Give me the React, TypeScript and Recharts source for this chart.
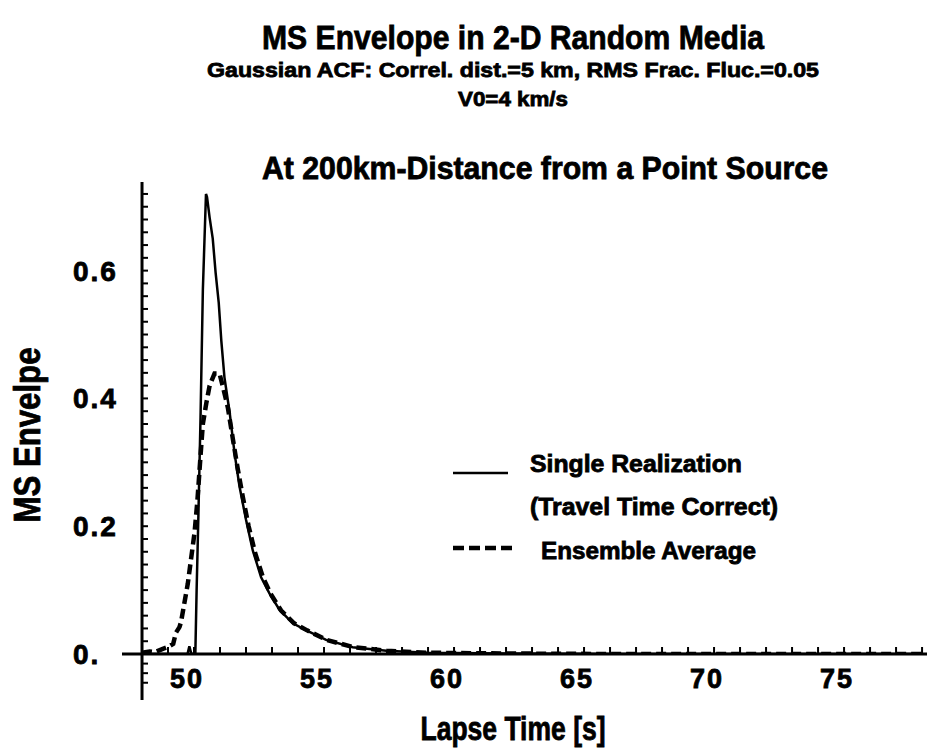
import React from "react";
import { LineChart, Line, XAxis, YAxis, ReferenceLine } from "recharts";

// ---- data ----
const singleT = [48, 49.75, 49.82, 49.9, 50.05, 50.1, 50.17, 50.25, 50.34, 50.46, 50.5, 50.6, 50.72, 50.83, 50.95, 51.05, 51.17, 51.37, 51.56, 51.75, 52.0, 52.26, 52.58, 52.9, 53.29, 53.8, 54.3, 55.08, 56.1, 57.4, 59, 62, 66, 78];
const singleV = [0, 0, 0.012, 0, 0, 0.1, 0.22, 0.37, 0.57, 0.72, 0.715, 0.683, 0.65, 0.597, 0.55, 0.49, 0.433, 0.378, 0.314, 0.262, 0.21, 0.162, 0.12, 0.095, 0.069, 0.048, 0.0375, 0.022, 0.0105, 0.005, 0.002, 0.0006, 0, 0];

const ensembleT = [48, 48.3, 48.5, 48.8, 49.0, 49.2, 49.3, 49.44, 49.5, 49.63, 49.76, 49.89, 50.02, 50.13, 50.25, 50.34, 50.47, 50.6, 50.79, 50.98, 51.1, 51.3, 51.48, 51.68, 51.88, 52.1, 52.35, 52.65, 52.95, 53.35, 53.85, 54.35, 55.1, 56.1, 57.4, 59, 62, 66, 78];
const ensembleV = [0.002, 0.004, 0.003, 0.008, 0.011, 0.016, 0.033, 0.042, 0.05, 0.08, 0.11, 0.15, 0.19, 0.24, 0.31, 0.36, 0.392, 0.42, 0.439, 0.439, 0.42, 0.386, 0.34, 0.29, 0.245, 0.2, 0.158, 0.12, 0.094, 0.068, 0.048, 0.037, 0.022, 0.011, 0.005, 0.002, 0.0008, 0, 0];

const xTickValues = [50, 55, 60, 65, 70, 75];
const xTickLabels = ["50", "55", "60", "65", "70", "75"];
const yTickValues = [0, 0.2, 0.4, 0.6];
const yTickLabels = ["0.", "0.2", "0.4", "0.6"];

const xMinorTicks = [49, 50, 51, 52, 53, 54, 55, 56, 57, 58, 59, 60, 61, 62, 63, 64, 65, 66, 67, 68, 69, 70, 71, 72, 73, 74, 75, 76, 77, 78];
const yMinorTicks = [-0.045, -0.03, -0.015, 0.02, 0.04, 0.06, 0.08, 0.1, 0.12, 0.14, 0.16, 0.18, 0.2, 0.22, 0.24, 0.26, 0.28, 0.3, 0.32, 0.34, 0.36, 0.38, 0.4, 0.42, 0.44, 0.46, 0.48, 0.5, 0.52, 0.54, 0.56, 0.58, 0.6, 0.62, 0.64, 0.66, 0.68, 0.7, 0.72];

const X_MIN = 47.23;
const X_MAX = 78.19;
const Y_MAX = 0.7387;
const AXIS_X = 48;
const AXIS_Y_BOTTOM = -0.072;

const singleData = singleT.map((t, i) => ({ t, v: singleV[i] }));
const ensembleData = ensembleT.map((t, i) => ({ t, v: ensembleV[i] }));

const FONT = "'Liberation Sans', Arial, Helvetica, sans-serif";

const XTick = (props: any) => {
  const { x, y, payload } = props;
  const idx = xTickValues.indexOf(payload.value);
  const label = idx >= 0 ? xTickLabels[idx] : String(payload.value);
  return (
    <text x={x - 7} y={y + 19} textAnchor="middle" fontFamily={FONT} fontWeight="bold" fontSize={27} letterSpacing={2} fill="#000" stroke="#000" strokeWidth={0.8}>
      {label}
    </text>
  );
};

const YTick = (props: any) => {
  const { x, y, payload } = props;
  const idx = yTickValues.indexOf(payload.value);
  const label = idx >= 0 ? yTickLabels[idx] : String(payload.value);
  return (
    <text x={x} y={y + 10} textAnchor="start" fontFamily={FONT} fontWeight="bold" fontSize={28} letterSpacing={2} fill="#000" stroke="#000" strokeWidth={0.8}>
      {label}
    </text>
  );
};

export default function App() {
  return (
    <div style={{ position: "absolute", left: 0, top: 0, width: 927, height: 751, background: "#fff", overflow: "hidden" }}>
      <LineChart width={927} height={751} margin={{ top: 182, right: 0, bottom: 0, left: 0 }}>
        <XAxis
          dataKey="t"
          type="number"
          domain={[X_MIN, X_MAX]}
          allowDataOverflow
          ticks={xTickValues}
          axisLine={false}
          tickLine={false}
          tickSize={0}
          tickMargin={15}
          height={97}
          tick={<XTick />}
          interval={0}
        />
        <YAxis
          type="number"
          domain={[0, Y_MAX]}
          allowDataOverflow
          ticks={yTickValues}
          axisLine={false}
          tickLine={false}
          tickSize={0}
          tickMargin={49}
          width={122}
          tick={<YTick />}
          interval={0}
        />
        <ReferenceLine y={0} stroke="#000" strokeWidth={3} ifOverflow="visible" />
        <ReferenceLine
          segment={[{ x: AXIS_X, y: AXIS_Y_BOTTOM }, { x: AXIS_X, y: Y_MAX }]}
          stroke="#000"
          strokeWidth={3}
          ifOverflow="visible"
        />
        {xMinorTicks.map((t) => (
          <ReferenceLine
            key={"xt" + t}
            segment={[{ x: t, y: 0 }, { x: t, y: 0.011 }]}
            stroke="#000"
            strokeWidth={2}
            ifOverflow="visible"
          />
        ))}
        {yMinorTicks.map((v) => (
          <ReferenceLine
            key={"yt" + v}
            segment={[{ x: AXIS_X, y: v }, { x: AXIS_X + 0.23, y: v }]}
            stroke="#000"
            strokeWidth={2}
            ifOverflow="visible"
          />
        ))}
        <Line
          data={ensembleData}
          dataKey="v"
          type="linear"
          dot={false}
          stroke="#000"
          strokeWidth={4.5}
          strokeDasharray="10 5"
          isAnimationActive={false}
        />
        <Line
          data={singleData}
          dataKey="v"
          type="linear"
          dot={false}
          stroke="#000"
          strokeWidth={2.5}
          isAnimationActive={false}
        />
      </LineChart>
      <svg width={927} height={751} style={{ position: "absolute", left: 0, top: 0, pointerEvents: "none" }}>
        <g fontFamily={FONT} fontWeight="bold" fill="#000" stroke="#000" strokeWidth={0.8}>
          <text x={513} y={49} textAnchor="middle" fontSize={34} textLength={502} lengthAdjust="spacingAndGlyphs">
            MS Envelope in 2-D Random Media
          </text>
          <text x={513} y={77} textAnchor="middle" fontSize={21} textLength={612} lengthAdjust="spacingAndGlyphs">
            Gaussian ACF: Correl. dist.=5 km, RMS Frac. Fluc.=0.05
          </text>
          <text x={513} y={106} textAnchor="middle" fontSize={21} textLength={110} lengthAdjust="spacingAndGlyphs">
            V0=4 km/s
          </text>
          <text x={545} y={179} textAnchor="middle" fontSize={31} textLength={566} lengthAdjust="spacingAndGlyphs">
            At 200km-Distance from a Point Source
          </text>
          <text x={513} y={740} textAnchor="middle" fontSize={33} textLength={185} lengthAdjust="spacingAndGlyphs">
            Lapse Time [s]
          </text>
          <text transform="translate(40,435) rotate(-90)" x={0} y={0} textAnchor="middle" fontSize={36} textLength={175} lengthAdjust="spacingAndGlyphs">
            MS Envelpe
          </text>
          <text x={530} y={472} fontSize={24} textLength={212} lengthAdjust="spacingAndGlyphs">
            Single Realization
          </text>
          <text x={530} y={515} fontSize={24} textLength={248} lengthAdjust="spacingAndGlyphs">
            (Travel Time Correct)
          </text>
          <text x={541} y={559} fontSize={24} textLength={215} lengthAdjust="spacingAndGlyphs">
            Ensemble Average
          </text>
        </g>
        <line x1={453} y1={473} x2={508} y2={473} stroke="#000" strokeWidth={2.5} />
        <line x1={453} y1={548} x2={514} y2={548} stroke="#000" strokeWidth={4.5} strokeDasharray="11 5" />
      </svg>
    </div>
  );
}
